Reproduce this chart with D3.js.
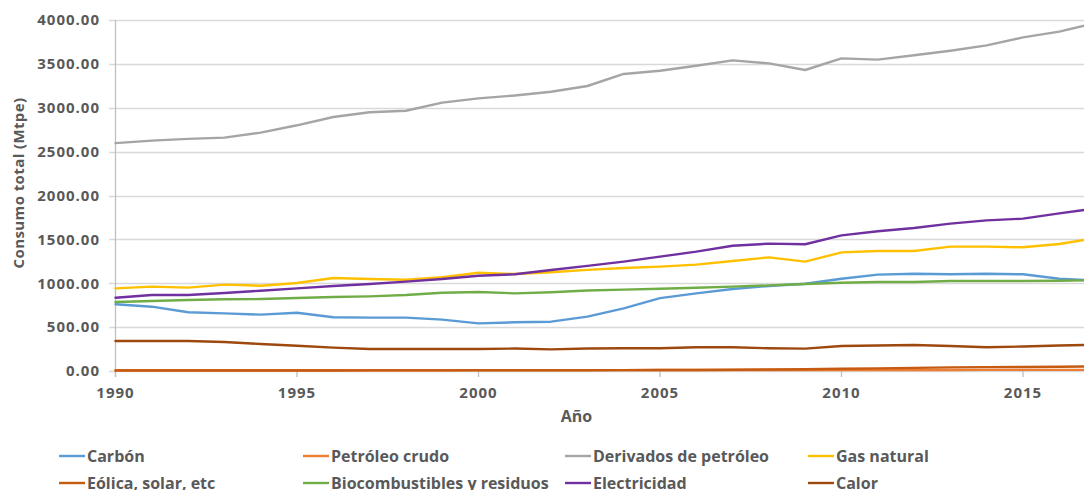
<!DOCTYPE html>
<html>
<head>
<meta charset="utf-8">
<script src="https://cdn.jsdelivr.net/npm/d3@7"></script>
<style>
  html, body { margin: 0; padding: 0; background: #fff; overflow: hidden; }
  svg { display: block; }
  text { font-family: "Open Sans", sans-serif; font-weight: 700; fill: #595959; }
</style>
</head>
<body>
<svg id="chart" width="1084" height="490"></svg>
<script>
// Consumo final total por fuente, 1990–2017 (Mtpe)
const years = d3.range(1990, 2018);

const carbon       = [760, 733, 669, 657, 642, 664, 612, 608, 608, 585, 543, 555, 562, 619, 714, 830, 885, 934, 969, 995, 1052, 1098, 1109, 1102, 1109, 1102, 1052, 1030];
const petroleoCrudo = [9, 9, 9, 9, 9, 9, 9, 9, 9, 9, 10, 10, 10, 10, 10, 11, 11, 11, 11, 11, 12, 12, 12, 12, 13, 13, 13, 13];
const derivados    = [2597, 2625, 2645, 2660, 2716, 2800, 2895, 2948, 2966, 3058, 3107, 3140, 3183, 3248, 3385, 3422, 3479, 3540, 3506, 3430, 3563, 3548, 3598, 3650, 3711, 3802, 3867, 3966];
const gasNatural   = [942, 961, 950, 984, 972, 1003, 1060, 1048, 1040, 1068, 1120, 1105, 1125, 1153, 1174, 1189, 1212, 1253, 1295, 1246, 1352, 1367, 1367, 1417, 1417, 1410, 1447, 1514];
const eolica       = [5, 5, 5, 5, 6, 6, 6, 7, 7, 7, 8, 8, 9, 9, 10, 11, 12, 14, 17, 20, 25, 30, 36, 41, 44, 45, 48, 52];
const biocomb      = [786, 798, 809, 817, 820, 832, 843, 851, 866, 892, 900, 885, 897, 917, 927, 938, 949, 961, 976, 991, 1006, 1014, 1014, 1026, 1026, 1026, 1029, 1035];
const electricidad = [835, 866, 866, 889, 915, 942, 969, 991, 1018, 1048, 1086, 1102, 1151, 1198, 1246, 1303, 1360, 1428, 1451, 1444, 1546, 1592, 1630, 1679, 1717, 1736, 1797, 1852];
const calor        = [342, 342, 342, 330, 308, 288, 266, 251, 251, 251, 251, 256, 247, 257, 259, 259, 270, 270, 259, 255, 285, 290, 296, 285, 270, 279, 290, 300];

const seriesNames  = ["Carbón", "Petróleo crudo", "Derivados de petróleo", "Gas natural",
                      "Eólica, solar, etc", "Biocombustibles y residuos", "Electricidad", "Calor"];
const seriesValues = [carbon, petroleoCrudo, derivados, gasNatural, eolica, biocomb, electricidad, calor];
const seriesColors = ["#5B9BD5", "#ED7D31", "#A5A5A5", "#FFC000", "#C55A11", "#70AD47", "#7030A0", "#9E480E"];

const yTicks = [0, 500, 1000, 1500, 2000, 2500, 3000, 3500, 4000];
const xTicks = [1990, 1995, 2000, 2005, 2010, 2015];

const svg = d3.select("#chart");

const x = d3.scaleLinear().domain([1990, 2017]).range([115.5, 1095.6]);
const y = d3.scaleLinear().domain([0, 4000]).range([371, 20]);

// horizontal gridlines
svg.append("g")
  .selectAll("line")
  .data(yTicks)
  .join("line")
  .attr("x1", 109).attr("x2", 1100)
  .attr("y1", d => Math.round(y(d)) + 0.5).attr("y2", d => Math.round(y(d)) + 0.5)
  .attr("stroke", "#D9D9D9").attr("stroke-width", 1.3);

// vertical axis line
svg.append("line")
  .attr("x1", 115.5).attr("x2", 115.5)
  .attr("y1", y(4000)).attr("y2", y(0) + 6)
  .attr("stroke", "#BFBFBF").attr("stroke-width", 1.3);

// y tick labels
svg.append("g")
  .selectAll("text")
  .data(yTicks)
  .join("text")
  .attr("x", 100)
  .attr("y", d => y(d))
  .attr("dy", "0.35em")
  .attr("text-anchor", "end")
  .style("font-size", "15px")
  .style("letter-spacing", "1px")
  .text(d => d3.format(".2f")(d));

// x ticks
svg.append("g")
  .selectAll("line")
  .data(xTicks)
  .join("line")
  .attr("x1", d => x(d)).attr("x2", d => x(d))
  .attr("y1", y(0)).attr("y2", y(0) + 6)
  .attr("stroke", "#BFBFBF").attr("stroke-width", 1.3);

svg.append("g")
  .selectAll("text")
  .data(xTicks)
  .join("text")
  .attr("x", d => x(d))
  .attr("y", 397.5)
  .attr("text-anchor", "middle")
  .style("font-size", "15px")
  .style("letter-spacing", "1px")
  .text(d => d);

// axis titles
svg.append("text")
  .attr("transform", "translate(24,183) rotate(-90)")
  .attr("text-anchor", "middle")
  .style("font-size", "15px")
  .style("letter-spacing", "0.4px")
  .text("Consumo total (Mtpe)");

svg.append("text")
  .attr("x", 576.5).attr("y", 421.5)
  .attr("text-anchor", "middle")
  .style("font-size", "16px")
  .text("Año");

// series lines
const line = d3.line()
  .x((d, i) => x(years[i]))
  .y(d => y(d));

svg.append("g")
  .selectAll("path")
  .data(seriesValues)
  .join("path")
  .attr("d", d => line(d))
  .attr("fill", "none")
  .attr("stroke", (d, i) => seriesColors[i])
  .attr("stroke-width", 2.4)
  .attr("stroke-linejoin", "round")
  .attr("stroke-linecap", "round");

// legend: 4 columns x 2 rows
const legendX = [59, 303, 565, 808];
const legendY = [456, 483];

const legend = svg.append("g")
  .selectAll("g")
  .data(seriesNames)
  .join("g")
  .attr("transform", (d, i) => `translate(${legendX[i % 4]},${legendY[Math.floor(i / 4)]})`);

legend.append("line")
  .attr("x1", 0).attr("x2", 26)
  .attr("y1", 0).attr("y2", 0)
  .attr("stroke", (d, i) => seriesColors[i])
  .attr("stroke-width", 2.4);

legend.append("text")
  .attr("x", 28)
  .attr("y", 0)
  .attr("dy", "0.36em")
  .style("font-size", "16px")
  .text(d => d);
</script>
</body>
</html>
